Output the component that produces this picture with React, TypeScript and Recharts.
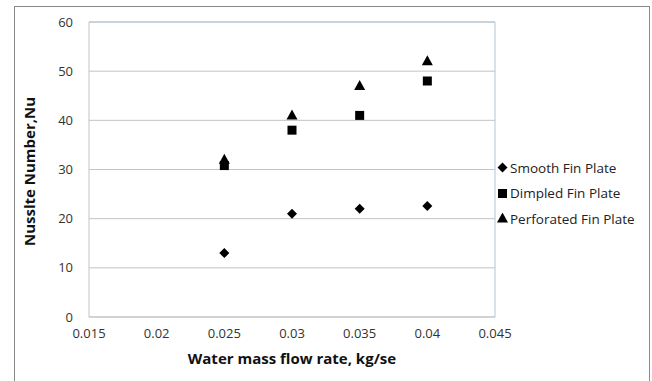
import { CartesianGrid, ReferenceLine, Scatter, ScatterChart, XAxis, YAxis } from "recharts";

const xTicks = [0.015, 0.02, 0.025, 0.03, 0.035, 0.04, 0.045];
const yTicks = [0, 10, 20, 30, 40, 50, 60];

const flowRates = [0.025, 0.03, 0.035, 0.04];
const smoothNu = [13, 21, 22, 22.6];
const dimpledNu = [30.8, 38, 41, 48];
const perforatedNu = [32, 41, 47, 52];

const seriesNames = ["Smooth Fin Plate", "Dimpled Fin Plate", "Perforated Fin Plate"];

const toPoints = (values: number[]) => flowRates.map((x, i) => ({ x, y: values[i] }));

const FONT = "'Open Sans', sans-serif";

// marker drawn around the point centre
function Marker({ cx, cy, kind }: { cx?: number; cy?: number; kind: string }) {
    if (cx == null || cy == null) return null;
    if (kind === "diamond") return <path d={`M${cx} ${cy - 5} L${cx + 5} ${cy} L${cx} ${cy + 5} L${cx - 5} ${cy} Z`} fill="#000" />;
    if (kind === "square") return <rect x={cx - 4.5} y={cy - 4.5} width={9} height={9} fill="#000" />;
    return <path d={`M${cx} ${cy - 6} L${cx + 5.5} ${cy + 4} L${cx - 5.5} ${cy + 4} Z`} fill="#000" />;
}

function LegendMarker({ kind }: { kind: string }) {
    return (
        <svg width={11} height={11}>
            <Marker cx={5.5} cy={5.5} kind={kind} />
        </svg>
    );
}

function ChartLegend() {
    const kinds = ["diamond", "square", "triangle"];
    return (
        <div style={{ position: "absolute", left: 497, top: 155, fontFamily: FONT, fontSize: 13.5, color: "#222" }}>
            {seriesNames.map((name, i) => (
                <div key={name} style={{ display: "flex", alignItems: "center", height: 25.5 }}>
                    <LegendMarker kind={kinds[i]} />
                    <span style={{ marginLeft: 2 }}>{name}</span>
                </div>
            ))}
        </div>
    );
}

export default function App() {
    return (
        <div style={{ position: "fixed", left: 0, top: 0, width: 652, height: 381, background: "#fff", overflow: "hidden" }}>
            <div style={{ position: "absolute", left: 14, top: 6, width: 634, height: 380, border: "1px solid #8a8a8a" }} />
            <div style={{ position: "absolute", left: 0, top: 0 }}>
                <ScatterChart width={652} height={381} margin={{ top: 22, right: 157, bottom: 34, left: 0 }}>
                    <CartesianGrid vertical={false} stroke="#c3c3c3" />
                    <XAxis
                        type="number"
                        dataKey="x"
                        domain={[0.015, 0.045]}
                        ticks={xTicks}
                        tickLine={false}
                        axisLine={{ stroke: "#c3c3c3" }}
                        height={30}
                        tick={{ fontFamily: FONT, fontSize: 13, fill: "#333" }}
                        tickMargin={6}
                        label={{ value: "Water mass flow rate, kg/se", position: "insideBottom", offset: -17, style: { fontFamily: FONT, fontSize: 15, fontWeight: 700, fill: "#111" } }}
                    />
                    <YAxis
                        type="number"
                        dataKey="y"
                        domain={[0, 60]}
                        ticks={yTicks}
                        tickLine={false}
                        axisLine={{ stroke: "#c3c3c3" }}
                        width={89}
                        tick={{ fontFamily: FONT, fontSize: 13, fill: "#333" }}
                        tickMargin={10}
                        label={{ value: "Nusslte Number,Nu", angle: -90, position: "insideLeft", offset: 30, dy: 2, style: { fontFamily: FONT, fontSize: 15, fontWeight: 700, fill: "#111", textAnchor: "middle" } }}
                    />
                    <ReferenceLine y={60} stroke="#b4c6d8" />
                    <ReferenceLine x={0.045} stroke="#b4c6d8" />
                    <Scatter name={seriesNames[0]} data={toPoints(smoothNu)} shape={(p: any) => <Marker cx={p.cx} cy={p.cy} kind="diamond" />} fill="#000" isAnimationActive={false} />
                    <Scatter name={seriesNames[1]} data={toPoints(dimpledNu)} shape={(p: any) => <Marker cx={p.cx} cy={p.cy} kind="square" />} fill="#000" isAnimationActive={false} />
                    <Scatter name={seriesNames[2]} data={toPoints(perforatedNu)} shape={(p: any) => <Marker cx={p.cx} cy={p.cy} kind="triangle" />} fill="#000" isAnimationActive={false} />
                </ScatterChart>
            </div>
            <ChartLegend />
        </div>
    );
}
